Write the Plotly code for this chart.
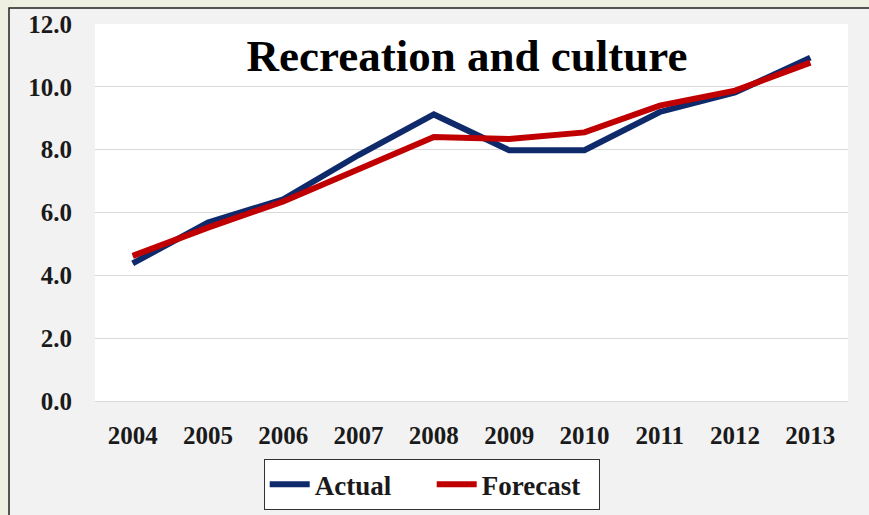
import plotly.graph_objects as go

years = ["2004", "2005", "2006", "2007", "2008", "2009", "2010", "2011", "2012", "2013"]
actual = [4.38, 5.68, 6.42, 7.83, 9.12, 7.98, 7.98, 9.2, 9.82, 10.93]
forecast = [4.62, 5.52, 6.35, 7.36, 8.4, 8.34, 8.55, 9.4, 9.88, 10.77]
y_ticks = [0, 2, 4, 6, 8, 10, 12]
y_tick_labels = ["0.0", "2.0", "4.0", "6.0", "8.0", "10.0", "12.0"]

W, H = 869, 515
L, R, T, B = 95, 21, 24, 114
pw, ph = W - L - R, H - T - B

def px_x(x):
    return (x - L) / pw

def px_y(y):
    return (H - B - y) / ph

serif = "Liberation Serif, Times New Roman, serif"

fig = go.Figure()
fig.add_trace(go.Scatter(x=years, y=actual, name="Actual", mode="lines",
                         line=dict(color="#0f2a6b", width=6)))
fig.add_trace(go.Scatter(x=years, y=forecast, name="Forecast", mode="lines",
                         line=dict(color="#c00000", width=6)))

# outer chart frame, then the white plotting area on top of it
fig.add_shape(type="rect", xref="paper", yref="paper", layer="below",
              x0=px_x(9), x1=px_x(W + 10), y0=px_y(H + 10), y1=px_y(8),
              fillcolor="#f2f2f2", line=dict(color="#222222", width=1.5))
fig.add_shape(type="rect", xref="paper", yref="paper", layer="below",
              x0=0, x1=1, y0=0, y1=1, fillcolor="white", line=dict(width=0))

fig.update_layout(
    width=W, height=H,
    margin=dict(l=L, r=R, t=T, b=B, autoexpand=False),
    paper_bgcolor="#eef0e1",
    plot_bgcolor="white",
    font=dict(family=serif, color="#1a1a1a", size=25, weight="bold"),
    title=dict(text="Recreation and culture", x=467 / W, xanchor="center",
               y=(H - 55) / H, yanchor="middle",
               font=dict(family=serif, size=45, color="black", weight="bold")),
    showlegend=True,
    legend=dict(orientation="h", xref="container", yref="container",
                x=432 / W, xanchor="center", y=(H - 459) / H, yanchor="top",
                bgcolor="white", bordercolor="#333333", borderwidth=1.2,
                font=dict(family=serif, size=27, color="#1a1a1a", weight="bold"),
                itemwidth=40, entrywidth=112, tracegroupgap=0),
    xaxis=dict(type="category", range=[-0.5, 9.5], showgrid=False,
               showline=False, zeroline=False, ticks="outside", ticklen=12,
               tickcolor="rgba(0,0,0,0)", tickfont=dict(size=25),
               automargin=False),
    yaxis=dict(range=[0, 12], tickvals=y_ticks, ticktext=y_tick_labels,
               showgrid=True, gridcolor="#d9d9d9", gridwidth=1,
               zeroline=True, zerolinecolor="#d9d9d9", zerolinewidth=1,
               showline=False, ticks="outside", ticklen=17,
               tickcolor="rgba(0,0,0,0)", tickfont=dict(size=25),
               automargin=False),
)

fig.write_html("out.html")
